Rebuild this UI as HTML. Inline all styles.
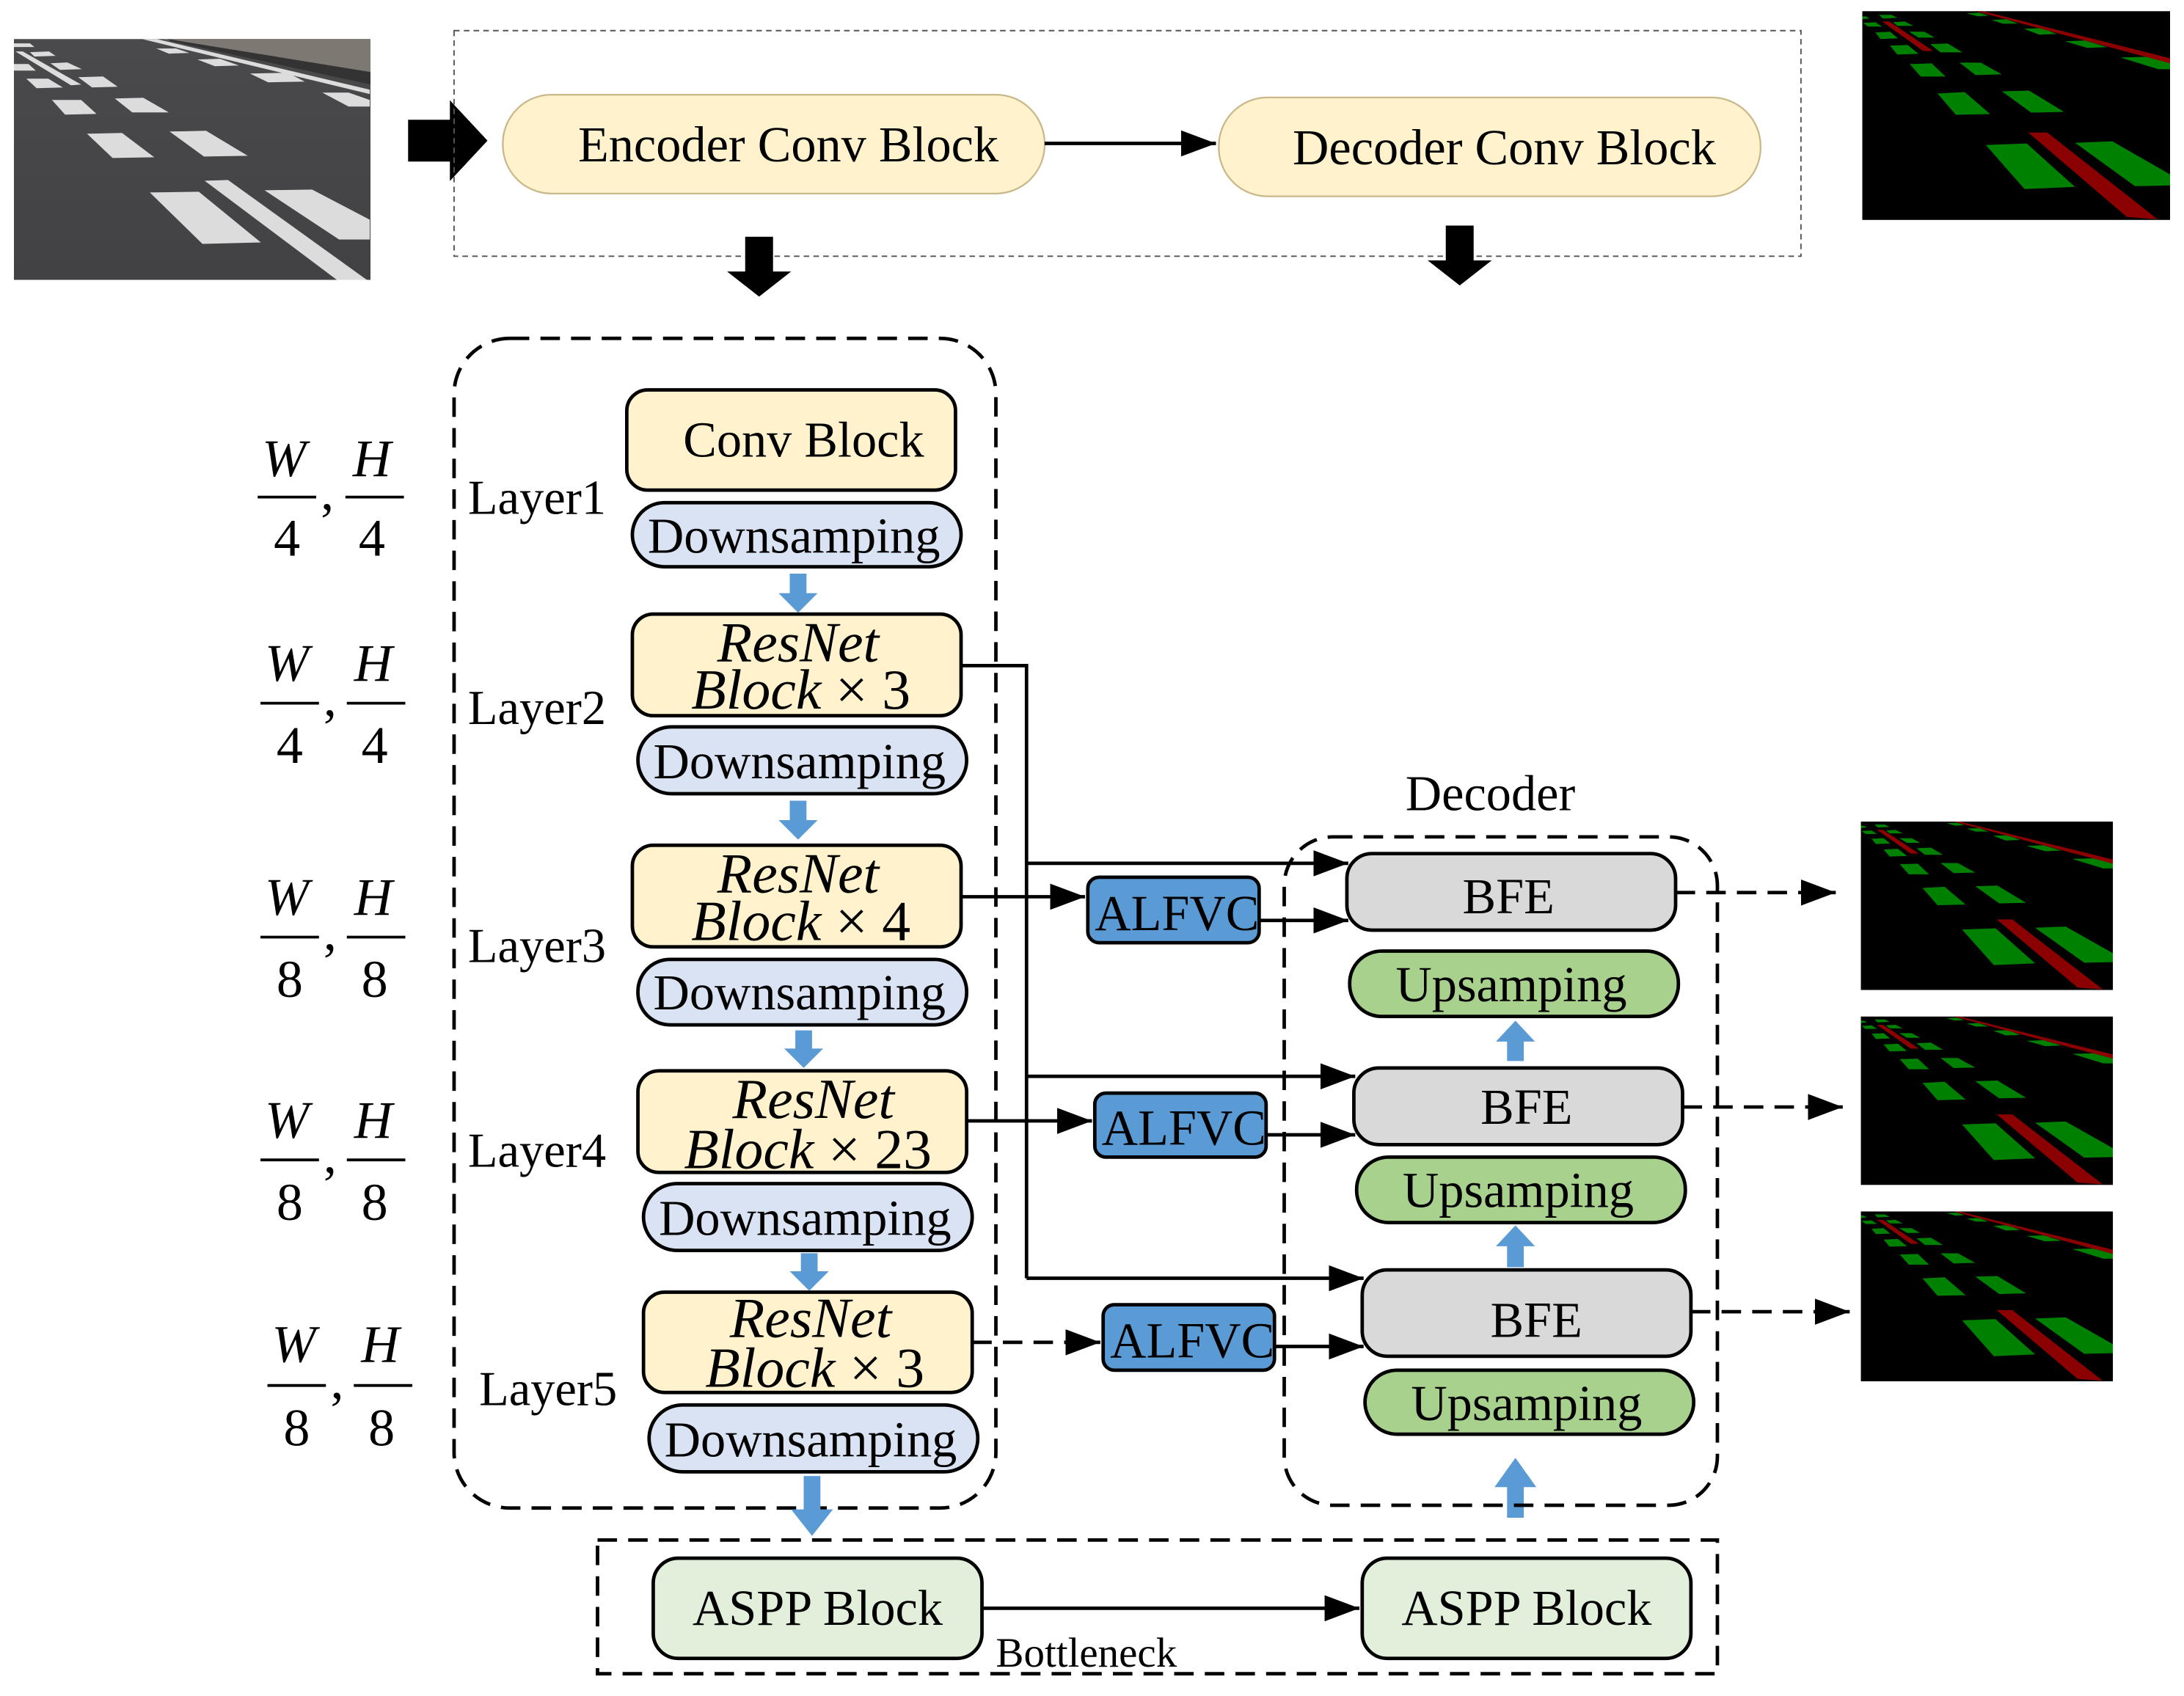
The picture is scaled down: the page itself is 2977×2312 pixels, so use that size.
<!DOCTYPE html>
<html><head><meta charset="utf-8"><style>
html,body{margin:0;padding:0;background:#fff;}
svg{display:block;}
text{font-family:"Liberation Serif",serif;fill:#000;}
</style></head><body>
<svg width="2977" height="2312" viewBox="0 0 1568 1218" preserveAspectRatio="none" xmlns="http://www.w3.org/2000/svg">
<defs>
<symbol id="seg" viewBox="0 0 421 284" preserveAspectRatio="none">
<rect width="421" height="284" fill="#000"/>
<g fill="#008000">
<polygon points="169,182 225,180 291,239 222,242"/>
<polygon points="291,179 342,177 421,222 421,237 373,238"/>
<polygon points="103,112 140,110 175,140 128,141"/>
<polygon points="191,109 228,108 276,137 231,138"/>
<polygon points="65,72 95,71 114,89 80,89"/>
<polygon points="133,70 162,70 191,86 155,87"/>
<polygon points="38,47 62,46 77,58 48,59"/>
<polygon points="93,45 117,44 137,56 107,56"/>
<polygon points="18,29 38,28 49,37 25,38"/>
<polygon points="64,28 85,28 99,36 77,36"/>
<polygon points="353,63 392,62 421,70 421,79 405,79"/>
<polygon points="277,41 305,40 335,49 308,50"/>
<polygon points="221,24 245,23 266,31 242,32"/>
<polygon points="177,12 197,11 213,17 192,17"/>
<polygon points="143,3 160,2 173,6 158,7"/>
<polygon points="1,16 18,15 27,21 8,21"/>
<polygon points="42,15 58,14 70,20 48,20"/>
<polygon points="23,5 40,5 48,9 28,10"/>
<polygon points="0,7 5,7 10,10 0,11"/>
</g>
<g fill="#8b0000">
<polygon points="227,165 253,165 404,283 362,280"/>
<polygon points="27,14 37,14 97,54 83,54"/>
<polygon points="155,0 165,0 421,64 421,71"/>
</g>
</symbol>
<symbol id="road" viewBox="0 0 488 328" preserveAspectRatio="none">
<defs><linearGradient id="rg" x1="0" y1="0" x2="0" y2="1"><stop offset="0" stop-color="#4a4a4c"/><stop offset="1" stop-color="#424244"/></linearGradient></defs>
<rect width="488" height="328" fill="url(#rg)"/>
<polygon points="200,0 488,0 488,45" fill="#7d7872"/>
<polygon points="210,0 488,45 488,62 215,3" fill="#333"/>
<g fill="#dcdcdc">
<polygon points="186,209 253,208 338,277 258,279"/>
<polygon points="261,193 293,192 483,328 442,328"/>
<polygon points="343,206 408,205 487,246 487,273 445,273"/>
<polygon points="100,129 148,128 192,161 135,162"/>
<polygon points="213,126 263,125 320,159 260,160"/>
<polygon points="52,83 92,83 113,102 70,103"/>
<polygon points="138,81 177,80 212,100 162,100"/>
<polygon points="17,54 47,54 67,66 31,67"/>
<polygon points="88,52 122,51 142,65 107,66"/>
<polygon points="0,34 20,34 30,43 0,43"/>
<polygon points="50,33 73,32 93,41 63,42"/>
<polygon points="22,18 48,17 57,23 28,24"/>
<polygon points="2,17 12,17 92,62 78,63"/>
<polygon points="0,6 22,6 28,11 0,11"/>
<polygon points="175,0 195,0 487,69 487,75"/>
<polygon points="323,47 375,46 398,58 348,59"/>
<polygon points="422,73 458,73 487,83 487,92 458,92"/>
<polygon points="251,28 282,27 308,36 275,37"/>
<polygon points="195,13 222,13 240,19 212,20"/>
</g>
</symbol>
<marker id="ah" viewBox="0 0 10 10" refX="10" refY="5" markerWidth="10" markerHeight="7.5" markerUnits="strokeWidth" orient="auto" preserveAspectRatio="none">
<path d="M0,0 L10,5 L0,10 z" fill="#000"/></marker>
</defs>

<!-- top section -->
<use href="#road" x="10" y="28" width="256" height="173"/>
<polygon points="293,86 323,86 323,72 350,101 323,130 323,116 293,116" fill="#000"/>
<rect x="326" y="22" width="967" height="162" fill="none" stroke="#555" stroke-width="1" stroke-dasharray="4 3"/>
<rect x="361" y="68" width="389" height="71" rx="35" fill="#fff2cc" stroke="#c9b98a" stroke-width="1.2"/>
<text x="566" y="116" font-size="36" text-anchor="middle">Encoder Conv Block</text>
<line x1="750" y1="103" x2="873" y2="103" stroke="#000" stroke-width="2.5" marker-end="url(#ah)"/>
<rect x="875" y="70" width="389" height="71" rx="35" fill="#fff2cc" stroke="#c9b98a" stroke-width="1.2"/>
<text x="1080" y="118" font-size="36" text-anchor="middle">Decoder Conv Block</text>
<use href="#seg" x="1337" y="8" width="221" height="150"/>
<polygon points="535,170 555,170 555,195 568,195 545,213 522,195 535,195" fill="#000"/>
<polygon points="1038,162 1058,162 1058,187 1071,187 1048,205 1025,187 1038,187" fill="#000"/>

<!-- encoder -->
<rect x="326" y="243" width="389" height="840" rx="40" fill="none" stroke="#000" stroke-width="2.5" stroke-dasharray="14 8"/>
<g stroke="#000" stroke-width="2.5">
<rect x="450" y="280" width="236" height="72" rx="15" fill="#fff2cc"/>
<rect x="454" y="361" width="236" height="46" rx="23" fill="#dae3f3"/>
<rect x="454" y="441" width="236" height="73" rx="15" fill="#fff2cc"/>
<rect x="458" y="522" width="236" height="48" rx="24" fill="#dae3f3"/>
<rect x="454" y="607" width="236" height="73" rx="15" fill="#fff2cc"/>
<rect x="458" y="689" width="236" height="47" rx="23" fill="#dae3f3"/>
<rect x="458" y="769" width="236" height="73" rx="15" fill="#fff2cc"/>
<rect x="462" y="850" width="236" height="48" rx="24" fill="#dae3f3"/>
<rect x="462" y="928" width="236" height="72" rx="15" fill="#fff2cc"/>
<rect x="466" y="1009" width="236" height="48" rx="24" fill="#dae3f3"/>
</g>
<g font-size="36" text-anchor="middle">
<text x="577" y="328">Conv Block</text>
<text x="570" y="397">Downsamping</text>
<text x="574" y="559">Downsamping</text>
<text x="574" y="725">Downsamping</text>
<text x="578" y="887">Downsamping</text>
<text x="582" y="1046">Downsamping</text>
</g>
<g font-size="41" text-anchor="middle" font-style="italic">
<text x="573" y="475">ResNet</text><text x="575" y="509">Block<tspan font-style="normal"> × 3</tspan></text>
<text x="573" y="641">ResNet</text><text x="575" y="675">Block<tspan font-style="normal"> × 4</tspan></text>
<text x="584" y="803">ResNet</text><text x="580" y="839">Block<tspan font-style="normal"> × 23</tspan></text>
<text x="582" y="960">ResNet</text><text x="585" y="996">Block<tspan font-style="normal"> × 3</tspan></text>
</g>
<!-- blue arrows -->
<g fill="#5b9bd5">
<polygon points="567,412 579,412 579,426 587,426 573,440 559,426 567,426"/>
<polygon points="567,575 579,575 579,589 587,589 573,603 559,589 567,589"/>
<polygon points="571,740 583,740 583,753 591,753 577,767 563,753 571,753"/>
<polygon points="575,900 587,900 587,913 595,913 581,927 567,913 575,913"/>
<polygon points="577,1060 589,1060 589,1084 598,1084 583,1103 568,1084 577,1084"/>
<polygon points="1082,762 1094,762 1094,748 1102,748 1088,733 1074,748 1082,748"/>
<polygon points="1082,910 1094,910 1094,895 1102,895 1088,880 1074,895 1082,895"/>
<polygon points="1082,1090 1094,1090 1094,1068 1103,1068 1088,1047 1073,1068 1082,1068"/>
</g>
<g font-size="35">
<text x="336" y="369">Layer1</text>
<text x="336" y="520">Layer2</text>
<text x="336" y="691">Layer3</text>
<text x="336" y="838">Layer4</text>
<text x="344" y="1009">Layer5</text>
</g>
<!-- fractions -->
<g font-size="38" text-anchor="middle">
<g font-style="italic"><text x="204" y="342">W</text><text x="267" y="342">H</text></g>
<line x1="185" y1="357" x2="227" y2="357" stroke="#000" stroke-width="2"/><line x1="248" y1="357" x2="290" y2="357" stroke="#000" stroke-width="2"/>
<text x="235" y="366">,</text><text x="206" y="399">4</text><text x="267" y="399">4</text>
<g font-style="italic"><text x="206" y="489">W</text><text x="268" y="489">H</text></g>
<line x1="187" y1="505" x2="229" y2="505" stroke="#000" stroke-width="2"/><line x1="249" y1="505" x2="291" y2="505" stroke="#000" stroke-width="2"/>
<text x="237" y="514">,</text><text x="208" y="548">4</text><text x="269" y="548">4</text>
<g font-style="italic"><text x="206" y="657">W</text><text x="268" y="657">H</text></g>
<line x1="187" y1="673" x2="229" y2="673" stroke="#000" stroke-width="2"/><line x1="249" y1="673" x2="291" y2="673" stroke="#000" stroke-width="2"/>
<text x="237" y="682">,</text><text x="208" y="716">8</text><text x="269" y="716">8</text>
<g font-style="italic"><text x="206" y="817">W</text><text x="268" y="817">H</text></g>
<line x1="187" y1="833" x2="229" y2="833" stroke="#000" stroke-width="2"/><line x1="249" y1="833" x2="291" y2="833" stroke="#000" stroke-width="2"/>
<text x="237" y="842">,</text><text x="208" y="876">8</text><text x="269" y="876">8</text>
<g font-style="italic"><text x="211" y="978">W</text><text x="273" y="978">H</text></g>
<line x1="192" y1="995" x2="234" y2="995" stroke="#000" stroke-width="2"/><line x1="254" y1="995" x2="296" y2="995" stroke="#000" stroke-width="2"/>
<text x="242" y="1004">,</text><text x="213" y="1038">8</text><text x="274" y="1038">8</text>
</g>

<!-- decoder -->
<text x="1070" y="582" font-size="36" text-anchor="middle">Decoder</text>
<rect x="922" y="601" width="311" height="480" rx="35" fill="none" stroke="#000" stroke-width="2.5" stroke-dasharray="14 8"/>
<g stroke="#000" stroke-width="2.5">
<rect x="967" y="613" width="236" height="55" rx="18" fill="#d9d9d9"/>
<rect x="969" y="683" width="236" height="47" rx="23" fill="#a9d18e"/>
<rect x="972" y="767" width="236" height="55" rx="18" fill="#d9d9d9"/>
<rect x="974" y="831" width="236" height="47" rx="23" fill="#a9d18e"/>
<rect x="978" y="912" width="236" height="62" rx="18" fill="#d9d9d9"/>
<rect x="980" y="984" width="236" height="46" rx="23" fill="#a9d18e"/>
<rect x="781" y="630" width="123" height="47" rx="8" fill="#5b9bd5"/>
<rect x="786" y="785" width="123" height="46" rx="8" fill="#5b9bd5"/>
<rect x="792" y="937" width="123" height="47" rx="8" fill="#5b9bd5"/>
</g>
<g font-size="36" text-anchor="middle">
<text x="1083" y="656">BFE</text>
<text x="1085" y="719">Upsamping</text>
<text x="1096" y="807">BFE</text>
<text x="1090" y="867">Upsamping</text>
<text x="1103" y="960">BFE</text>
<text x="1096" y="1020">Upsamping</text>
<text x="845" y="668">ALFVC</text>
<text x="850" y="822">ALFVC</text>
<text x="856" y="975">ALFVC</text>
</g>
<!-- connectors -->
<g stroke="#000" stroke-width="2.5" fill="none">
<polyline points="690,478 737,478 737,918"/>
<line x1="737" y1="620" x2="968" y2="620" marker-end="url(#ah)"/>
<line x1="737" y1="773" x2="973" y2="773" marker-end="url(#ah)"/>
<line x1="737" y1="918" x2="979" y2="918" marker-end="url(#ah)"/>
<line x1="690" y1="644" x2="779" y2="644" marker-end="url(#ah)"/>
<line x1="904" y1="661" x2="968" y2="661" marker-end="url(#ah)"/>
<line x1="694" y1="805" x2="784" y2="805" marker-end="url(#ah)"/>
<line x1="909" y1="815" x2="973" y2="815" marker-end="url(#ah)"/>
<line x1="698" y1="964" x2="790" y2="964" stroke-dasharray="14 8" marker-end="url(#ah)"/>
<line x1="915" y1="967" x2="979" y2="967" marker-end="url(#ah)"/>
<line x1="1203" y1="641" x2="1318" y2="641" stroke-dasharray="14 8" marker-end="url(#ah)"/>
<line x1="1208" y1="795" x2="1323" y2="795" stroke-dasharray="14 8" marker-end="url(#ah)"/>
<line x1="1214" y1="942" x2="1328" y2="942" stroke-dasharray="14 8" marker-end="url(#ah)"/>
</g>
<use href="#seg" x="1336" y="590" width="181" height="121"/>
<use href="#seg" x="1336" y="730" width="181" height="121"/>
<use href="#seg" x="1336" y="870" width="181" height="122"/>

<!-- bottleneck -->
<rect x="429" y="1106" width="804" height="96" fill="none" stroke="#000" stroke-width="2.5" stroke-dasharray="14 8"/>
<g stroke="#000" stroke-width="2.5">
<rect x="469" y="1119" width="236" height="72" rx="18" fill="#e2efda"/>
<rect x="978" y="1119" width="236" height="72" rx="18" fill="#e2efda"/>
</g>
<line x1="705" y1="1155" x2="976" y2="1155" stroke="#000" stroke-width="2.5" marker-end="url(#ah)"/>
<g font-size="36" text-anchor="middle">
<text x="587" y="1167">ASPP Block</text>
<text x="1096" y="1167">ASPP Block</text>
</g>
<text x="715" y="1197" font-size="30">Bottleneck</text>
</svg>
</body></html>
